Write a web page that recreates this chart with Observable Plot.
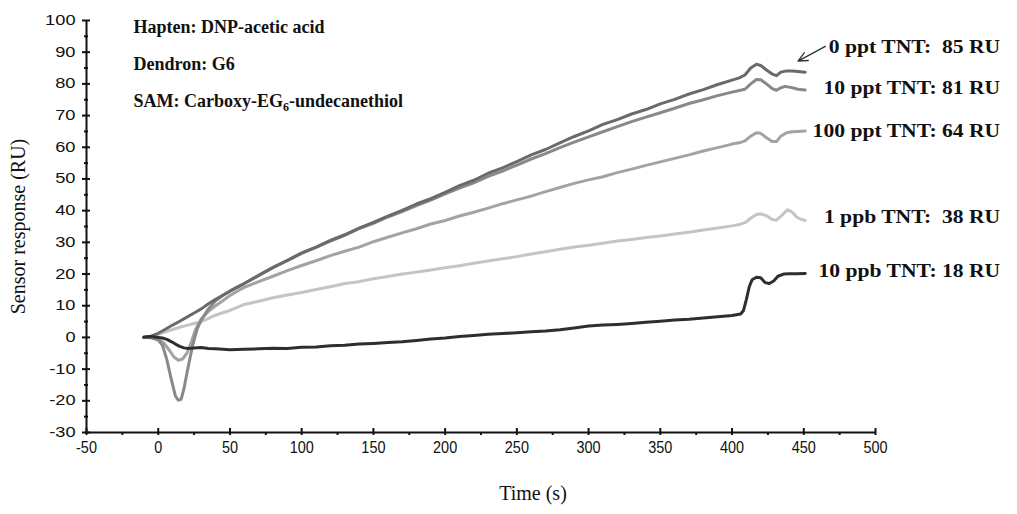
<!DOCTYPE html>
<html>
<head>
<meta charset="utf-8">
<script src="https://cdn.jsdelivr.net/npm/d3@7"></script>
<script src="https://cdn.jsdelivr.net/npm/@observablehq/plot@0.6"></script>
<style>
  html, body { margin: 0; padding: 0; background: #fff; }
  svg text { white-space: pre; }
</style>
</head>
<body>
<div id="chart"></div>
<script>
// ---- data ----
const seriesNames = ["1 ppb TNT", "100 ppt TNT", "10 ppt TNT", "0 ppt TNT", "10 ppb TNT"];
const seriesColors = ["#c4c4c4", "#a3a3a3", "#898989", "#6a6a6a", "#2e2e2e"];

const t_0ppt = [-10,-5,0,5,10,15,20,25,30,35,40,45,50,55,60,70,80,90,100,110,120,130,140,150,160,170,180,190,200,210,220,230,240,250,260,270,280,290,300,310,320,330,340,350,360,370,380,390,400,405,409,413,417,420,424,428,431,434,438,442,446,451];
const v_0ppt = [0,0.4,1.3,2.6,3.9,5.1,6.4,7.7,9,10.6,12,13.3,14.6,15.9,17,19.6,22.1,24.3,26.7,28.5,30.6,32.4,34.5,36.3,38.3,40.1,42.1,43.8,45.8,47.9,49.6,51.8,53.5,55.5,57.6,59.3,61.4,63.4,65.2,67.2,68.7,70.5,71.9,73.7,75.1,76.8,78.2,79.8,81.2,81.9,82.8,85,86.2,85.8,84.4,83.1,82.6,83.7,84.1,84.1,83.9,83.7];

const t_10ppt = [-10,-5,0,3,6,9,12,14,16,18,21,24,27,30,35,40,45,50,55,60,70,80,90,100,110,120,130,140,150,160,170,180,190,200,210,220,230,240,250,260,270,280,290,300,310,320,330,340,350,360,370,380,390,400,405,409,413,417,420,424,428,431,434,437,441,446,451];
const v_10ppt = [0,-0.1,-0.8,-2.5,-7,-13,-18.5,-19.8,-19.5,-16,-9,-2.5,2.5,5.5,9,11.6,13.2,14.6,15.8,17,19.5,22,24.2,26.5,28.4,30.4,32.2,34.3,36,38,39.7,41.6,43.3,45.3,47.1,48.8,50.8,52.5,54.4,56.3,58,59.9,61.6,63.3,64.9,66.5,68.1,69.5,70.9,72.3,73.8,75,76.3,77.4,77.9,78.3,80,81.4,81.3,80,78.5,78,78.8,79.2,78.9,78.3,78.1];

const t_100ppt = [-10,-5,0,4,8,11,14,17,20,23,26,30,35,40,45,50,55,60,70,80,90,100,110,120,130,140,150,160,170,180,190,200,210,220,230,240,250,260,270,280,290,300,310,320,330,340,350,360,370,380,390,400,405,409,413,417,420,424,428,431,434,438,442,446,451];
const v_100ppt = [0,0,-0.5,-1.8,-4.2,-6.2,-7.2,-6.8,-5,-1.5,2.5,5.8,8.2,10,11.6,13.2,14.6,15.8,17.6,19.3,21.1,22.7,24.2,25.8,27.2,28.5,30.2,31.6,33,34.3,35.8,36.9,38.3,39.5,40.8,42.2,43.4,44.6,46,47.3,48.6,49.7,50.7,52,53.1,54.3,55.4,56.5,57.6,58.8,59.9,61,61.4,62,63.5,64.6,64.4,63,61.8,61.8,63.5,64.6,64.9,65,65.1];

const t_1ppb = [-10,-5,0,5,10,15,20,25,30,35,40,45,50,55,60,70,80,90,100,110,120,130,140,150,160,170,180,190,200,210,220,230,240,250,260,270,280,290,300,310,320,330,340,350,360,370,380,390,400,405,409,413,417,420,424,428,431,434,437,439,442,445,448,451];
const v_1ppb = [0,0.3,1,1.8,2.5,3.2,3.8,4.4,5,6,7,7.8,8.5,9.5,10.4,11.4,12.5,13.4,14.2,15.1,16,17,17.6,18.5,19.2,20,20.6,21.3,22,22.6,23.4,24.1,24.8,25.5,26.3,27,27.8,28.5,29.1,29.7,30.4,30.9,31.5,32,32.6,33.2,33.9,34.5,35.2,35.6,36.2,37.6,38.8,39,38.4,37.2,37,38.2,39.6,40.3,39.5,38,37.3,36.9];

const t_10ppb = [-10,-5,0,3,6,9,12,15,18,21,25,30,35,40,50,60,70,80,90,100,110,120,130,140,150,160,170,180,190,200,210,220,230,240,250,260,270,280,290,300,310,320,330,340,350,360,370,380,390,400,406,408,410,412,414,417,420,423,426,429,432,436,440,445,451];
const v_10ppb = [0.1,0.3,0,-0.2,-0.6,-1.3,-2.1,-2.8,-3.3,-3.5,-3.3,-3.2,-3.5,-3.6,-3.9,-3.7,-3.6,-3.4,-3.5,-3.1,-3,-2.6,-2.5,-2.1,-1.9,-1.6,-1.4,-1,-0.5,-0.2,0.3,0.6,1,1.2,1.5,1.8,2,2.4,3,3.6,3.9,4.1,4.4,4.8,5.1,5.5,5.7,6.1,6.5,6.9,7.4,8.5,12,16,18.2,19,18.8,17.3,17,17.8,19.3,20,20.1,20.1,20.2];

const seriesTimes = [t_1ppb, t_100ppt, t_10ppt, t_0ppt, t_10ppb];
const seriesValues = [v_1ppb, v_100ppt, v_10ppt, v_0ppt, v_10ppb];

// labels at the right
const labelTexts = ["0 ppt TNT:  85 RU", "10 ppt TNT: 81 RU", "100 ppt TNT: 64 RU", "1 ppb TNT:  38 RU", "10 ppb TNT: 18 RU"];
const labelY = [91.5, 78.5, 65, 37.9, 20.8];
const labelX = [451, 451, 451, 451, 451];

// arrow for the 0 ppt label
const arrowFrom = {x: 465, y: 91.8};
const arrowTo = {x: 446, y: 87.2};

const notes = "Hapten: DNP-acetic acid\nDendron: G6\nSAM: Carboxy-EG6-undecanethiol";

const xTicks = d3.range(-50, 501, 50);
const xMinor = d3.range(-25, 500, 50);
const yTicks = d3.range(-30, 101, 10);
const yMinor = d3.range(-25, 100, 10);

// ---- build table ----
const rows = [];
seriesNames.forEach((name, i) => {
  seriesTimes[i].forEach((t, j) => rows.push({series: name, t, v: seriesValues[i][j]}));
});
const labelRows = labelTexts.map((text, i) => ({text, x: labelX[i], y: labelY[i]}));

const serif = "'Liberation Serif', 'Times New Roman', Times, serif";
const sans = "'Liberation Sans', Arial, Helvetica, sans-serif";

const chart = Plot.plot({
  width: 1017,
  height: 514,
  marginLeft: 86,
  marginRight: 142,
  marginTop: 20,
  marginBottom: 82,
  style: {fontFamily: sans, fontSize: "15px", color: "#111", background: "#fff"},
  x: {domain: [-50, 500]},
  y: {domain: [-30, 100]},
  color: {domain: seriesNames, range: seriesColors},
  marks: [
    Plot.line(rows, {x: "t", y: "v", z: "series", stroke: "series", strokeWidth: 3, strokeLinejoin: "round", strokeLinecap: "round"}),
    Plot.ruleX([-50], {stroke: "#111", strokeWidth: 2}),
    Plot.ruleY([-30], {stroke: "#111", strokeWidth: 2}),
    Plot.axisY({ticks: yTicks, tickFormat: d => String(d), tickSize: 8, dx: 4, tickPadding: 7, strokeWidth: 2, label: null, fontSize: 14}),
    Plot.axisY({ticks: yMinor, tickSize: 4, dx: 2, text: null, strokeWidth: 2, label: null}),
    Plot.axisX({ticks: xTicks, tickFormat: d => String(d), tickSize: 7, dy: -4, tickPadding: 5, strokeWidth: 2, label: null, fontSize: 17}),
    Plot.axisX({ticks: xMinor, tickSize: 3, text: null, strokeWidth: 2, label: null}),
    Plot.text(["Sensor response (RU)"], {frameAnchor: "left", text: d => d, rotate: -90, dx: -68, textAnchor: "middle", lineAnchor: "middle", fontFamily: serif, fontSize: 20, fill: "#111"}),
    Plot.text(["Time (s)"], {frameAnchor: "bottom", text: d => d, dx: 52, dy: 61, textAnchor: "middle", lineAnchor: "middle", fontFamily: serif, fontSize: 20, fill: "#111"}),
    Plot.text([notes], {frameAnchor: "top-left", text: d => d, dx: 47, dy: -13, lineAnchor: "top", textAnchor: "start", lineHeight: 2.03, fontFamily: serif, fontWeight: "bold", fontSize: 18, fill: "#111"}),
    Plot.text(labelRows, {x: "x", y: "y", text: "text", textAnchor: "end", dx: 195, fontFamily: serif, fontWeight: "bold", fontSize: 18, fill: "#111"}),
    Plot.arrow([{x1: arrowFrom.x, y1: arrowFrom.y, x2: arrowTo.x, y2: arrowTo.y}], {x1: "x1", y1: "y1", x2: "x2", y2: "y2", stroke: "#333", strokeWidth: 1.4, headLength: 11, headAngle: 50})
  ]
});

// subscript "6" in EG6
d3.select(chart).selectAll("tspan").filter(function () {
  return this.textContent === "SAM: Carboxy-EG6-undecanethiol";
}).each(function () {
  const t = d3.select(this);
  t.text(null);
  t.append("tspan").text("SAM: Carboxy-EG");
  t.append("tspan").attr("dy", 4).attr("font-size", 12).text("6");
  t.append("tspan").attr("dy", -4).text("-undecanethiol");
});

document.getElementById("chart").appendChild(chart);

function stretch(sel, factor) {
  sel.each(function () {
    const w = this.getComputedTextLength();
    this.setAttribute("textLength", (w * factor).toFixed(1));
    this.setAttribute("lengthAdjust", "spacingAndGlyphs");
  });
}

// right-hand labels: wider glyphs as in the reference
stretch(d3.select(chart).selectAll("text").filter(function () {
  return labelTexts.includes(this.textContent);
}), 1.2);

// tick label glyph proportions like the reference
stretch(d3.select(chart).selectAll('g[aria-label="y-axis tick label"] text'), 1.3);
stretch(d3.select(chart).selectAll('g[aria-label="x-axis tick label"] text'), 0.85);
</script>
</body>
</html>
